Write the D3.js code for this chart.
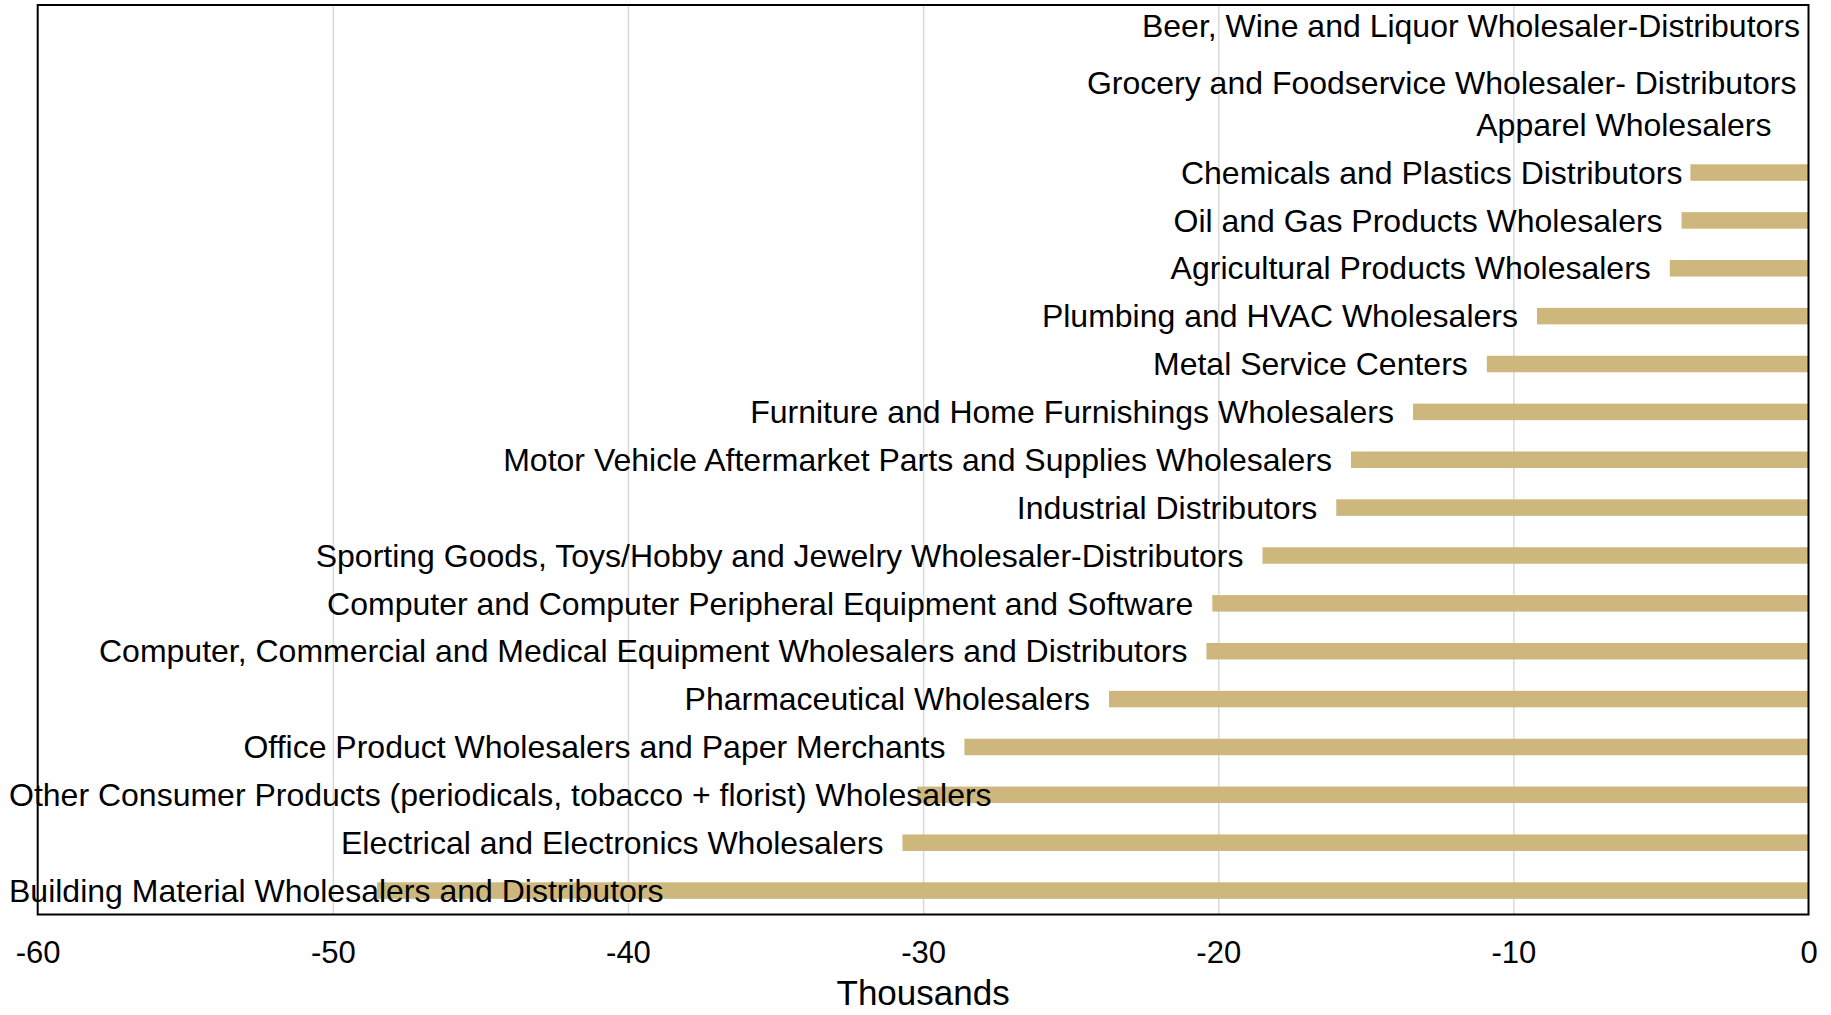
<!DOCTYPE html>
<html>
<head>
<meta charset="utf-8">
<script src="https://cdn.jsdelivr.net/npm/d3@7"></script>
<style>
  html, body { margin: 0; padding: 0; background: #fff; }
  svg { display: block; font-family: "Liberation Sans", Arial, sans-serif; }
</style>
</head>
<body>
<svg id="chart" width="1831" height="1015"></svg>
<script>
// ---- data ----
const categories = [
  "Beer, Wine and Liquor Wholesaler-Distributors",
  "Grocery and Foodservice Wholesaler- Distributors",
  "Apparel Wholesalers",
  "Chemicals and Plastics Distributors",
  "Oil and Gas Products Wholesalers",
  "Agricultural Products Wholesalers",
  "Plumbing and HVAC Wholesalers",
  "Metal Service Centers",
  "Furniture and Home Furnishings Wholesalers",
  "Motor Vehicle Aftermarket Parts and Supplies Wholesalers",
  "Industrial Distributors",
  "Sporting Goods, Toys/Hobby and Jewelry Wholesaler-Distributors",
  "Computer and Computer Peripheral Equipment and Software",
  "Computer, Commercial and Medical Equipment Wholesalers and Distributors",
  "Pharmaceutical Wholesalers",
  "Office Product Wholesalers and Paper Merchants",
  "Other Consumer Products (periodicals, tobacco + florist) Wholesalers",
  "Electrical and Electronics Wholesalers",
  "Building Material Wholesalers and Distributors"
];
const values = [0, 0, 0, -4.0, -4.3, -4.7, -9.2, -10.9, -13.4, -15.5, -16.0, -18.5, -20.2, -20.4, -23.7, -28.6, -30.2, -30.7, -48.5];
const tickValues = [-60, -50, -40, -30, -20, -10, 0];
const tickLabels = ["-60", "-50", "-40", "-30", "-20", "-10", "0"];
const axisTitle = "Thousands";

// ---- layout ----
const plot = { left: 37.7, right: 1808.5, top: 5, bottom: 914.5 };
// manual nudges of a few data labels (as placed in the original), [dx, dy] in px
const labelNudges = { 0: [10.5, -3.5], 1: [7, 5.5], 2: [-18, 0], 3: [11, 0] };
const svg = d3.select("#chart");

const x = d3.scaleLinear().domain([-60, 0]).range([plot.left, plot.right]);
const y = d3.scaleBand().domain(categories).range([plot.top, plot.bottom])
  .paddingInner(0.655).paddingOuter(0.3275);

// gridlines
const grid = svg.append("g").attr("transform", `translate(0,${plot.bottom})`)
  .call(d3.axisBottom(x).tickValues(tickValues.slice(1, -1))
    .tickSize(-(plot.bottom - plot.top)).tickFormat(""));
grid.select(".domain").remove();
grid.selectAll("line").attr("stroke", "#d9d9d9").attr("stroke-width", 1.5);

// bars
const rows = categories.map((c, i) => ({ c, v: values[i], i }));
svg.append("g").selectAll("rect").data(rows).join("rect")
  .attr("x", d => x(Math.min(d.v, 0)))
  .attr("y", d => y(d.c))
  .attr("width", d => Math.abs(x(d.v) - x(0)))
  .attr("height", y.bandwidth())
  .attr("fill", "#CDB77C");

// border
svg.append("rect")
  .attr("x", plot.left).attr("y", plot.top)
  .attr("width", plot.right - plot.left).attr("height", plot.bottom - plot.top)
  .attr("fill", "none").attr("stroke", "#000").attr("stroke-width", 2);

// data labels (category names)
const labelSize = 32;
const gap = 19;
const minLeft = 9;
const lg = svg.append("g");
lg.selectAll("text").data(rows).join("text")
  .attr("font-size", labelSize)
  .attr("fill", "#000")
  .text(d => d.c)
  .each(function (d) {
    const w = this.getComputedTextLength();
    const n = labelNudges[d.i] || [0, 0];
    let endX = x(d.v) - gap + n[0];
    if (endX - w < minLeft) endX = minLeft + w;
    d3.select(this)
      .attr("x", endX)
      .attr("y", y(d.c) + y.bandwidth() / 2 + labelSize * 0.35 + n[1])
      .attr("text-anchor", "end");
  });

// x axis tick labels
const ax = svg.append("g").attr("transform", `translate(0,${plot.bottom})`)
  .call(d3.axisBottom(x).tickValues(tickValues).tickSize(0).tickPadding(0)
    .tickFormat((d, i) => tickLabels[i]));
ax.select(".domain").remove();
ax.selectAll("text")
  .attr("font-size", 31)
  .attr("font-family", "Liberation Sans, Arial, sans-serif")
  .attr("fill", "#000")
  .attr("dy", null)
  .attr("y", 963 - plot.bottom);

// axis title
svg.append("text")
  .attr("x", (plot.left + plot.right) / 2)
  .attr("y", 1005)
  .attr("text-anchor", "middle")
  .attr("font-size", 35)
  .attr("fill", "#000")
  .text(axisTitle);
</script>
</body>
</html>
